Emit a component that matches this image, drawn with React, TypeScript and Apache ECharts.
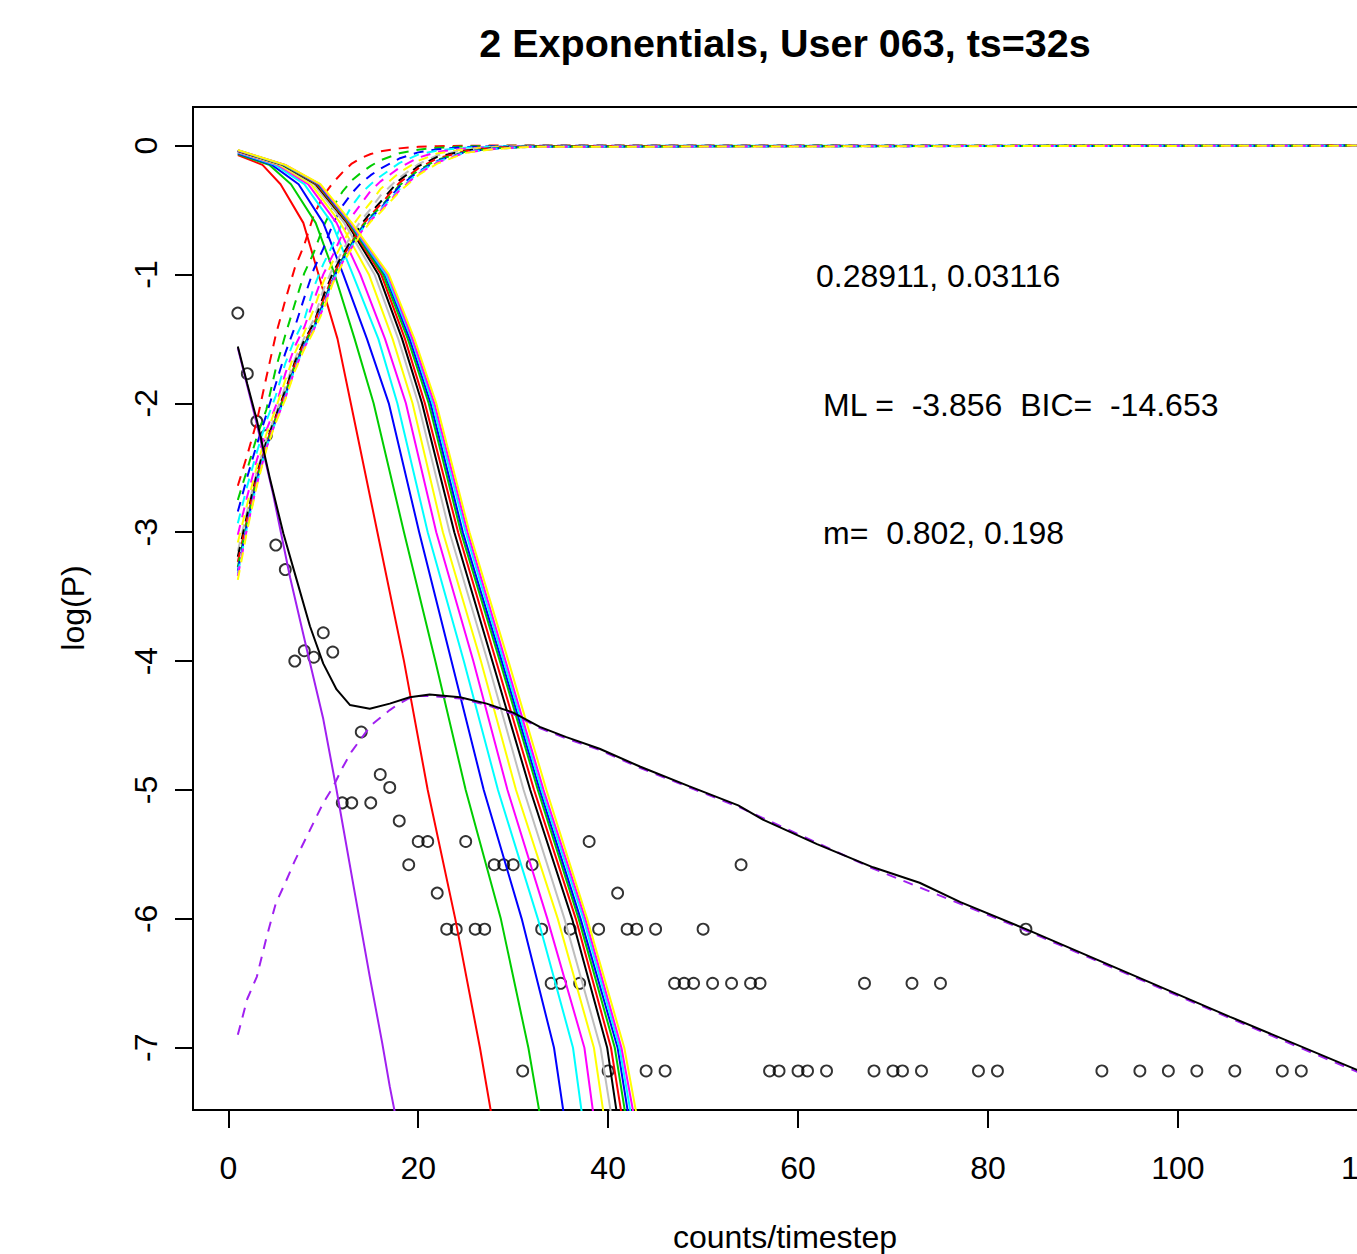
import React, { useEffect, useRef } from "react";
import * as echarts from "echarts";

// ---------- data ----------
const X_TICKS = [0, 20, 40, 60, 80, 100, 120];
const Y_TICKS = [0, -1, -2, -3, -4, -5, -6, -7];

const POINT_X = [1, 2, 3, 4, 5, 6, 7, 8, 9, 10, 11, 12, 13, 14, 15, 16, 17, 18, 19, 20, 21, 22, 23, 24, 25, 26, 27, 28, 29, 30, 31, 32, 33, 34, 35, 36, 37, 38, 39, 40, 41, 42, 43, 44, 45, 46, 47, 48, 49, 50, 51, 53, 54, 55, 56, 57, 58, 60, 61, 63, 67, 68, 70, 71, 72, 73, 75, 79, 81, 84, 92, 96, 99, 102, 106, 111, 113];
const POINT_Y = [-1.30, -1.77, -2.14, -2.25, -3.10, -3.29, -4.00, -3.92, -3.97, -3.78, -3.93, -5.10, -5.10, -4.55, -5.10, -4.88, -4.98, -5.24, -5.58, -5.40, -5.40, -5.80, -6.08, -6.08, -5.40, -6.08, -6.08, -5.58, -5.58, -5.58, -7.18, -5.58, -6.08, -6.50, -6.50, -6.08, -6.50, -5.40, -6.08, -7.18, -5.80, -6.08, -6.08, -7.18, -6.08, -7.18, -6.50, -6.50, -6.50, -6.08, -6.50, -6.50, -5.58, -6.50, -6.50, -7.18, -7.18, -7.18, -7.18, -7.18, -6.50, -7.18, -7.18, -7.18, -6.50, -7.18, -6.50, -7.18, -7.18, -6.08, -7.18, -7.18, -7.18, -7.18, -7.18, -7.18, -7.18];

const CURVE_COLORS = ["#FF0000", "#00CD00", "#0000FF", "#00FFFF", "#FF00FF", "#FFFF00", "#BEBEBE", "#000000", "#FF0000", "#00CD00", "#0000FF", "#00FFFF", "#FF00FF", "#FFFF00"];

// solid curves: start value at x=1, then x position where each curve reaches each level
const SOLID_START_Y = [-0.074, -0.066, -0.060, -0.055, -0.050, -0.047, -0.044, -0.042, -0.040, -0.039, -0.038, -0.037, -0.036, -0.035];
const SOLID_LEVELS = [-0.15, -0.3, -0.6, -1, -1.5, -2, -3, -4, -5, -6, -7, -7.6];
const SOLID_X = [
  [3.6, 5.5, 7.9, 9.5, 11.5, 12.9, 15.7, 18.5, 21.0, 23.9, 26.5, 27.9],
  [4.3, 6.6, 9.2, 11.2, 13.3, 15.3, 18.5, 21.8, 25.0, 28.7, 31.6, 33.0],
  [4.6, 7.4, 10.0, 12.1, 14.6, 16.9, 20.1, 23.5, 26.9, 30.9, 34.3, 35.5],
  [4.9, 8.0, 10.9, 13.1, 15.8, 17.8, 21.0, 24.8, 28.4, 32.6, 36.3, 37.4],
  [5.2, 8.4, 11.4, 13.9, 16.5, 18.7, 21.9, 25.8, 29.4, 33.6, 37.5, 38.6],
  [5.4, 8.7, 11.8, 14.8, 17.3, 19.4, 22.6, 26.6, 30.3, 34.7, 38.5, 39.7],
  [5.6, 9.0, 12.2, 15.4, 17.9, 20.0, 23.3, 27.3, 31.1, 35.4, 39.2, 40.5],
  [5.7, 9.2, 12.5, 15.8, 18.3, 20.4, 23.8, 27.8, 31.8, 36.2, 39.9, 41.1],
  [5.8, 9.3, 12.6, 16.1, 18.6, 20.7, 24.2, 28.2, 32.2, 36.6, 40.3, 41.6],
  [5.8, 9.4, 12.7, 16.3, 18.9, 21.1, 24.5, 28.6, 32.6, 36.9, 40.7, 42.0],
  [5.9, 9.5, 12.8, 16.5, 19.1, 21.3, 24.7, 28.8, 32.8, 37.1, 41.0, 42.3],
  [5.9, 9.6, 12.85, 16.6, 19.3, 21.5, 25.0, 29.0, 33.0, 37.4, 41.2, 42.6],
  [6.0, 9.6, 12.9, 16.8, 19.4, 21.7, 25.2, 29.2, 33.2, 37.6, 41.4, 42.9],
  [6.0, 9.7, 13.0, 16.9, 19.6, 21.9, 25.4, 29.5, 33.5, 37.8, 41.7, 43.2],
];

// dashed curves: y at shared x positions
const DASH_X = [1, 2, 3, 4, 5, 6, 7, 8, 9, 10, 11, 12, 13, 14, 15, 16, 18, 20, 22, 25, 28, 32, 124];
const DASH_Y = [
  [-2.64, -2.40, -2.14, -1.80, -1.47, -1.20, -0.95, -0.77, -0.54, -0.39, -0.29, -0.21, -0.14, -0.096, -0.066, -0.046, -0.022, -0.010, -0.005, -0.002, 0, 0, 0],
  [-2.75, -2.51, -2.26, -2.05, -1.73, -1.47, -1.23, -0.99, -0.83, -0.63, -0.48, -0.36, -0.27, -0.21, -0.158, -0.115, -0.060, -0.032, -0.017, -0.007, -0.003, -0.001, 0],
  [-2.84, -2.57, -2.32, -2.09, -1.85, -1.61, -1.41, -1.18, -0.96, -0.80, -0.61, -0.47, -0.37, -0.29, -0.23, -0.18, -0.101, -0.053, -0.029, -0.012, -0.005, -0.002, 0],
  [-2.93, -2.64, -2.38, -2.14, -1.94, -1.69, -1.50, -1.35, -1.10, -0.92, -0.77, -0.60, -0.47, -0.37, -0.30, -0.24, -0.136, -0.070, -0.039, -0.017, -0.008, -0.003, 0],
  [-3.02, -2.72, -2.44, -2.21, -2.02, -1.77, -1.56, -1.41, -1.20, -1.00, -0.85, -0.69, -0.55, -0.45, -0.35, -0.28, -0.173, -0.094, -0.049, -0.023, -0.010, -0.004, 0],
  [-3.08, -2.78, -2.49, -2.24, -2.04, -1.82, -1.61, -1.45, -1.27, -1.06, -0.90, -0.76, -0.63, -0.53, -0.44, -0.34, -0.21, -0.119, -0.062, -0.028, -0.013, -0.005, 0],
  [-3.15, -2.83, -2.53, -2.28, -2.08, -1.87, -1.66, -1.49, -1.35, -1.12, -0.95, -0.82, -0.69, -0.58, -0.49, -0.39, -0.25, -0.145, -0.076, -0.033, -0.015, -0.006, 0],
  [-3.19, -2.86, -2.55, -2.30, -2.10, -1.90, -1.68, -1.51, -1.38, -1.17, -0.99, -0.85, -0.73, -0.61, -0.52, -0.44, -0.27, -0.161, -0.088, -0.038, -0.018, -0.006, 0],
  [-3.23, -2.89, -2.57, -2.31, -2.11, -1.92, -1.70, -1.53, -1.39, -1.20, -1.01, -0.87, -0.75, -0.63, -0.54, -0.46, -0.29, -0.177, -0.100, -0.042, -0.020, -0.007, 0],
  [-3.27, -2.91, -2.59, -2.33, -2.12, -1.93, -1.71, -1.54, -1.41, -1.22, -1.03, -0.88, -0.76, -0.64, -0.55, -0.48, -0.31, -0.192, -0.111, -0.047, -0.022, -0.008, 0],
  [-3.30, -2.93, -2.60, -2.34, -2.13, -1.94, -1.72, -1.55, -1.42, -1.23, -1.04, -0.89, -0.77, -0.65, -0.56, -0.49, -0.32, -0.202, -0.119, -0.049, -0.023, -0.008, 0],
  [-3.32, -2.95, -2.62, -2.34, -2.14, -1.95, -1.73, -1.56, -1.42, -1.25, -1.05, -0.90, -0.78, -0.66, -0.57, -0.50, -0.34, -0.211, -0.126, -0.052, -0.025, -0.009, 0],
  [-3.34, -2.96, -2.63, -2.35, -2.14, -1.96, -1.74, -1.57, -1.43, -1.26, -1.06, -0.91, -0.79, -0.67, -0.58, -0.51, -0.35, -0.220, -0.132, -0.054, -0.026, -0.009, 0],
  [-3.37, -2.98, -2.64, -2.36, -2.15, -1.97, -1.75, -1.58, -1.44, -1.28, -1.07, -0.92, -0.80, -0.68, -0.59, -0.52, -0.36, -0.230, -0.140, -0.057, -0.027, -0.010, 0],
];

// first exponential component (solid purple)
const COMP1_X = [1, 3, 4.7, 6.5, 8.3, 10.0, 11.4, 13.2, 14.9, 16.2, 17.0, 17.8];
const COMP1_Y = [-1.57, -2.16, -2.70, -3.35, -3.92, -4.45, -5.00, -5.75, -6.45, -6.96, -7.30, -7.60];

// second exponential component (dashed purple)
const COMP2_X = [1, 2, 3, 4, 5, 6, 7, 8, 9, 10, 11, 12, 13, 14, 15, 16, 17, 18, 19, 20, 21.2, 24.4, 27.2, 30.0, 32.8, 35.6, 39.1, 43.4, 53.7, 67.9, 84.0, 105.5, 123.5];
const COMP2_Y = [-6.90, -6.62, -6.45, -6.15, -5.88, -5.72, -5.55, -5.40, -5.25, -5.10, -4.98, -4.83, -4.70, -4.60, -4.50, -4.44, -4.38, -4.33, -4.29, -4.27, -4.27, -4.29, -4.34, -4.41, -4.52, -4.60, -4.69, -4.83, -5.13, -5.61, -6.09, -6.77, -7.33];

// fitted mixture (solid black)
const MIX_X = [1, 2, 3, 4.4, 5.8, 7.2, 8.6, 10.0, 11.4, 12.8, 14.9, 17.0, 19.1, 21.2, 24.4, 27.2, 30.0, 32.8, 35.6, 39.1, 43.4, 48.5, 53.7, 56.3, 62.0, 67.9, 72.8, 77.1, 84.0, 95.7, 105.5, 118.8, 123.5];
const MIX_Y = [-1.56, -1.85, -2.13, -2.59, -3.01, -3.37, -3.73, -4.02, -4.22, -4.34, -4.37, -4.33, -4.28, -4.26, -4.28, -4.33, -4.40, -4.51, -4.59, -4.68, -4.82, -4.97, -5.12, -5.23, -5.42, -5.60, -5.72, -5.87, -6.08, -6.45, -6.76, -7.17, -7.32];

const TITLE = "2 Exponentials, User 063, ts=32s";
const ANNOT_P = "0.28911, 0.03116";
const ANNOT_ML = "ML =  -3.856  BIC=  -14.653";
const ANNOT_M = "m=  0.802, 0.198";
const X_NAME = "counts/timestep";
const Y_NAME = "log(P)";

const FONT = '"Liberation Sans", Arial, Helvetica, sans-serif';

function buildOption() {
  const series: any[] = [];
  series.push({
    type: "scatter",
    data: POINT_X.map((x, i) => [x, POINT_Y[i]]),
    symbol: "circle",
    symbolSize: 11,
    itemStyle: { color: "rgba(0,0,0,0)", borderColor: "#000", borderWidth: 1.9 },
    silent: true,
    z: 2,
  });
  CURVE_COLORS.forEach((c, i) => {
    series.push({
      type: "line",
      data: [[1, SOLID_START_Y[i]], ...SOLID_LEVELS.map((lv, j) => [SOLID_X[i][j], lv])],
      showSymbol: false,
      symbol: "none",
      lineStyle: { color: c, width: 2, join: "round" },
      silent: true,
      clip: true,
      z: 3,
    });
    series.push({
      type: "line",
      data: DASH_X.map((x, j) => [x, DASH_Y[i][j]]),
      showSymbol: false,
      symbol: "none",
      lineStyle: { color: c, width: 2, type: [10, 8] },
      silent: true,
      clip: true,
      z: 3,
    });
  });
  series.push({
    type: "line",
    data: COMP1_X.map((x, i) => [x, COMP1_Y[i]]),
    showSymbol: false,
    symbol: "none",
    lineStyle: { color: "#A020F0", width: 2 },
    silent: true,
    clip: true,
    z: 4,
  });
  series.push({
    type: "line",
    data: COMP2_X.map((x, i) => [x, COMP2_Y[i]]),
    showSymbol: false,
    symbol: "none",
    lineStyle: { color: "#A020F0", width: 2, type: [10, 8] },
    silent: true,
    clip: true,
    z: 4,
  });
  series.push({
    type: "line",
    data: MIX_X.map((x, i) => [x, MIX_Y[i]]),
    showSymbol: false,
    symbol: "none",
    lineStyle: { color: "#000", width: 2 },
    silent: true,
    clip: true,
    z: 5,
  });

  const txt = (text: string, x: number, y: number, size: number, align: string, extra: any = {}) => ({
    type: "text",
    x,
    y,
    silent: true,
    rotation: extra.rotation || 0,
    style: {
      text,
      fill: "#000",
      fontSize: size,
      fontFamily: FONT,
      fontWeight: extra.bold ? "bold" : "normal",
      align,
      verticalAlign: "middle",
      textAlign: align,
      textVerticalAlign: "middle",
    },
  });

  const axisCommon = {
    axisLine: { show: true, onZero: false, lineStyle: { color: "#000", width: 2 } },
    splitLine: { show: false },
  };

  return {
    animation: false,
    backgroundColor: "#fff",
    grid: {
      left: 193,
      top: 107,
      width: 1208,
      height: 1003,
      show: true,
      borderColor: "#000",
      borderWidth: 2,
      backgroundColor: "transparent",
      containLabel: false,
    },
    xAxis: {
      type: "value",
      min: -3.72,
      max: 123.5,
      ...axisCommon,
      axisTick: { show: true, customValues: X_TICKS, length: 18, lineStyle: { color: "#000", width: 2 } },
      axisLabel: { customValues: X_TICKS, fontSize: 32, color: "#000", fontFamily: FONT, margin: 42 },
    },
    yAxis: {
      type: "value",
      min: -7.483,
      max: 0.299,
      ...axisCommon,
      axisTick: { show: true, customValues: Y_TICKS, length: 18, lineStyle: { color: "#000", width: 2 } },
      axisLabel: { customValues: Y_TICKS, fontSize: 32, color: "#000", fontFamily: FONT, margin: 31, rotate: 90 },
    },
    series,
    graphic: [
      txt(TITLE, 785, 43, 39.5, "center", { bold: true }),
      txt(ANNOT_P, 816, 276, 32, "left"),
      txt(ANNOT_ML, 823, 405, 32, "left"),
      txt(ANNOT_M, 823, 533, 32, "left"),
      txt(X_NAME, 785, 1237, 32, "center"),
      txt(Y_NAME, 73, 608, 32, "center", { rotation: Math.PI / 2 }),
    ],
  };
}

export default function App() {
  const ref = useRef<HTMLDivElement>(null);
  useEffect(() => {
    if (!ref.current) return;
    const chart = echarts.init(ref.current, null, { renderer: "svg" });
    chart.setOption(buildOption() as any);
    return () => chart.dispose();
  }, []);
  return (
    <div
      style={{ position: "absolute", left: 0, top: 0, width: 1357, height: 1254, background: "#fff", overflow: "hidden" }}
    >
      <div ref={ref} style={{ width: 1460, height: 1254 }} />
    </div>
  );
}
